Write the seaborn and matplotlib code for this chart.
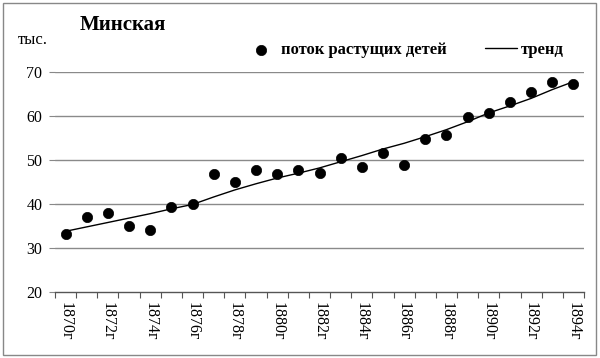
import matplotlib
matplotlib.use("Agg")
import matplotlib.pyplot as plt
import seaborn as sns
import pandas as pd
import numpy as np
from matplotlib.patches import Rectangle

years = list(range(1870, 1895))
flow = [33.1, 37.1, 38.0, 35.1, 34.2, 39.4, 39.9, 46.8, 45.0, 47.7, 46.8, 47.7, 47.1,
        50.4, 48.4, 51.5, 48.9, 54.8, 55.6, 59.8, 60.6, 63.1, 65.5, 67.8, 67.2]
trend = [33.8, 34.8, 35.8, 36.8, 37.8, 38.9, 39.9, 41.6, 43.2, 44.6, 45.9, 47.0, 48.2,
         49.6, 51.0, 52.5, 53.8, 55.3, 56.9, 58.7, 60.7, 62.3, 64.0, 66.0, 67.8]
year_labels = [f"{y}г" for y in years]
yticks = [20, 30, 40, 50, 60, 70]

df = pd.DataFrame({"idx": range(len(years)), "flow": flow, "trend": trend})

sns.set_theme(style="white")
plt.rcParams["font.family"] = ["Liberation Serif", "DejaVu Serif"]
plt.rcParams["text.color"] = "black"
plt.rcParams["xtick.color"] = "black"
plt.rcParams["ytick.color"] = "black"

fig = plt.figure(figsize=(6.0, 3.58), dpi=100)
ax = fig.add_axes([55/600, 1 - 292/358, (584-55)/600, (292-72)/358])

sns.lineplot(data=df, x="idx", y="trend", ax=ax, color="black", linewidth=1.0,
             label="тренд", zorder=3)
sns.scatterplot(data=df, x="idx", y="flow", ax=ax, color="black", s=55,
                edgecolor="black", linewidth=0.5, label="поток растущих детей", zorder=4)

ax.set_xlim(-0.5, len(years) - 0.5)
ax.set_ylim(20, 70)
ax.set_yticks(yticks)
ax.set_yticklabels([str(v) for v in yticks], fontsize=11.5)
for v in yticks[1:]:
    ax.axhline(v, color="#8a8a8a", linewidth=1.0, zorder=1)

# category boundary ticks (major, no labels) and labels at centres (minor)
ax.set_xticks(np.arange(-0.5, len(years), 1.0))
ax.set_xticklabels([])
ax.set_xticks(np.arange(0, len(years), 2), minor=True)
ax.set_xticklabels(year_labels[::2], minor=True, rotation=-90, fontsize=11.5)
ax.tick_params(axis="x", which="major", length=4, width=0.8, color="#555555", direction="out", bottom=True)
ax.tick_params(axis="x", which="minor", length=0, pad=7, bottom=True)
ax.tick_params(axis="y", length=4, width=0.8, color="#888888", left=True, pad=5)

for s in ["top", "right", "left"]:
    ax.spines[s].set_visible(False)
ax.spines["bottom"].set_color("#555555")
ax.spines["bottom"].set_linewidth(1.0)
ax.set_xlabel("")
ax.set_ylabel("")

handles, labels = ax.get_legend_handles_labels()
order = [labels.index("поток растущих детей"), labels.index("тренд")]
leg = ax.legend([handles[i] for i in order], [labels[i] for i in order],
                ncol=2, frameon=False, loc="center left",
                bbox_to_anchor=(245/600, 1 - 50/358), bbox_transform=fig.transFigure,
                prop={"size": 12, "weight": "bold"}, columnspacing=2.3,
                handlelength=1.9, handletextpad=0.25, borderaxespad=0, borderpad=0)

fig.text(80/600, 1 - 25/358, "Минская", fontsize=15, fontweight="bold", va="center", ha="left")
fig.text(18/600, 1 - 40/358, "тыс.", fontsize=12, va="center", ha="left")

fig.patches.append(Rectangle((3/600, 3/358), 593/600, 352/358, transform=fig.transFigure,
                             fill=False, edgecolor="#888888", linewidth=1.0))

fig.savefig("out.png", dpi=100)
